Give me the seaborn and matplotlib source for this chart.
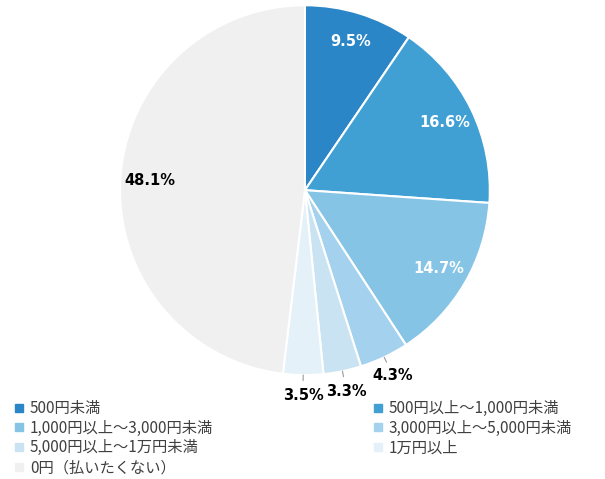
import matplotlib
matplotlib.use("Agg")
import matplotlib.pyplot as plt
import seaborn as sns
import numpy as np
from matplotlib.lines import Line2D

sns.set_style("white")
plt.rcParams['font.family'] = ['Noto Sans CJK JP', 'DejaVu Sans']

categories = ["500円未満", "500円以上～1,000円未満", "1,000円以上～3,000円未満",
              "3,000円以上～5,000円未満", "5,000円以上～1万円未満", "1万円以上",
              "0円（払いたくない）"]
values = [9.5, 16.6, 14.7, 4.3, 3.3, 3.5, 48.1]
colors = ["#2a86c6", "#40a0d4", "#86c4e6", "#a3d1ee", "#cae3f3", "#e5f1f9", "#f0f0f0"]
label_colors = ["white", "white", "white", "black", "black", "black", "black"]
outside = [False, False, False, True, True, True, False]

fig = plt.figure(figsize=(6.05, 4.79), dpi=100)
ax = fig.add_axes([0.198, 0.217, 0.612, 0.772])

wedges, _ = ax.pie(values, colors=colors, startangle=90, counterclock=False,
                   wedgeprops=dict(edgecolor="white", linewidth=1.5))
ax.set_aspect("equal")
ax.set_xlim(-1, 1)
ax.set_ylim(-1, 1)

for w, v, c, out in zip(wedges, values, label_colors, outside):
    ang = np.deg2rad((w.theta1 + w.theta2) / 2)
    r = 1.11 if out else 0.84
    x, y = r * np.cos(ang), r * np.sin(ang)
    if out:
        ax.plot([1.0 * np.cos(ang), 1.03 * np.cos(ang)],
                [1.0 * np.sin(ang), 1.03 * np.sin(ang)], color="#999999", lw=0.8,
                clip_on=False)
    ax.text(x, y, f"{v}%", ha="center", va="center", color=c,
            fontsize=10.5, fontweight="bold", fontfamily=["DejaVu Sans"],
            clip_on=False)

handles = [Line2D([], [], marker="s", linestyle="none", markersize=5.5,
                  markerfacecolor=col, markeredgecolor=col) for col in colors]
order = [0, 2, 4, 6, 1, 3, 5]
leg = fig.legend([handles[i] for i in order], [categories[i] for i in order],
                 ncol=2, loc="upper left", bbox_to_anchor=(0.014, 0.178),
                 frameon=False, fontsize=11, handlelength=0.55, handletextpad=0.45,
                 labelspacing=0.18, columnspacing=10.5, borderaxespad=0)
for t in leg.get_texts():
    t.set_color("#404040")

fig.savefig("out.png", dpi=100)
